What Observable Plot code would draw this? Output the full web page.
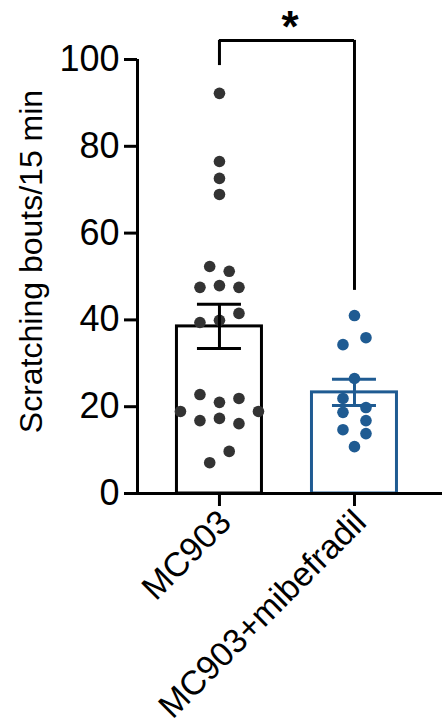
<!DOCTYPE html>
<html>
<head>
<meta charset="utf-8">
<script src="https://cdn.jsdelivr.net/npm/d3@7"></script>
<script src="https://cdn.jsdelivr.net/npm/@observablehq/plot@0.6"></script>
<style>
  html, body { margin: 0; padding: 0; background: white; }
  #chart { width: 442px; height: 727px; }
</style>
</head>
<body>
<div id="chart"></div>
<script>
// ---- data ----
const groups = ["MC903", "MC903+mibefradil"];
// individual animals, listed row by row, left to right within a row
const mc903Values = [92.2, 76.5, 72.6, 68.9, 52.3, 51.2, 47.5, 47.9, 47.5, 39.4, 39.9, 41.5,
                     22.8, 21.0, 21.9, 18.9, 16.8, 17.3, 16.1, 18.9, 7.1, 9.7];
const mibefradilValues = [41.0, 34.3, 35.9, 26.5, 21.9, 19.8, 18.7, 16.8, 14.7, 13.8, 10.8];
const means = [38.5, 23.3];
const sems = [5.1, 3.0];
const yTicks = [0, 20, 40, 60, 80, 100];
const yLabel = "Scratching bouts/15 min";
const bracketY = [104.4];            // height of the significance bracket
const bracketLegEnds = [98.6, 46.8]; // lower ends of the two legs
const sigText = ["*"];

// ---- styles / layout ----
const groupColors = ["#000000", "#1f5b92"];
const dotColors = ["#333333", "#1f5b92"];
const W = 442, H = 727, mL = 137, mR = 0, mT = 59, mB = 234;
const xDomain = [-0.607, 1.652];
const yDomain = [0, 100];
const pxPerX = (W - mL - mR) / (xDomain[1] - xDomain[0]);
const pxPerY = (H - mT - mB) / (yDomain[1] - yDomain[0]);
const barHalf = 42.5 / pxPerX;
const capHalf = 22 / pxPerX;
const laneSpacing = [19.5, 23];   // px between dots in a row
const rowTol = 13 / pxPerY;       // dots closer than this share a row

function swarm(values, gi) {
  const order = values.map((v, i) => i).sort((a, b) => values[b] - values[a]);
  const rows = [];
  for (const i of order) {
    const row = rows[rows.length - 1];
    if (row && values[row[0]] - values[i] <= rowTol) row.push(i);
    else rows.push([i]);
  }
  const out = [];
  for (const row of rows) {
    row.sort((a, b) => a - b);
    const n = row.length;
    row.forEach((i, k) => out.push({
      gi, group: groups[gi], value: values[i],
      x: gi + (k - (n - 1) / 2) * laneSpacing[gi] / pxPerX
    }));
  }
  return out;
}

const points = [...swarm(mc903Values, 0), ...swarm(mibefradilValues, 1)];
const summary = groups.map((g, i) => ({gi: i, group: g, mean: means[i], sem: sems[i]}));
const caps = summary.flatMap(d => [
  {gi: d.gi, y: d.mean + d.sem},
  {gi: d.gi, y: d.mean - d.sem}
]);

const chart = Plot.plot({
  width: W, height: H,
  marginLeft: mL, marginRight: mR, marginTop: mT, marginBottom: mB,
  style: {fontFamily: "'Liberation Sans', Arial, sans-serif", fontSize: "34px", color: "black", background: "white", overflow: "visible"},
  x: {domain: xDomain, axis: null},
  y: {domain: yDomain, axis: null},
  color: {type: "identity"},
  marks: [
    Plot.rectY(summary, {
      x1: d => d.gi - barHalf, x2: d => d.gi + barHalf, y1: 0, y2: "mean",
      fill: "white", stroke: d => groupColors[d.gi], strokeWidth: 3
    }),
    Plot.dot(points, {x: "x", y: "value", r: 5.8, fill: d => dotColors[d.gi], stroke: "none"}),
    Plot.ruleX(summary, {x: "gi", y1: d => d.mean - d.sem, y2: d => d.mean + d.sem, stroke: d => groupColors[d.gi], strokeWidth: 3}),
    Plot.ruleY(caps, {y: "y", x1: d => d.gi - capHalf, x2: d => d.gi + capHalf, stroke: d => groupColors[d.gi], strokeWidth: 3}),
    // axes
    Plot.ruleY([0], {strokeWidth: 3}),
    Plot.ruleX([xDomain[0]], {y1: yDomain[0], y2: yDomain[1], strokeWidth: 3}),
    Plot.axisY({ticks: yTicks, tickSize: 13, tickPadding: 5, strokeWidth: 3, fontSize: 36, label: null}),
    Plot.axisX({ticks: [0, 1], tickFormat: () => "", tickSize: 13, strokeWidth: 3, label: null}),
    Plot.axisX({ticks: [0, 1], tickFormat: i => groups[i], tickRotate: -45, tickSize: 0, tickPadding: 23, dx: 6, fontSize: 34, label: null}),
    Plot.text([yLabel], {frameAnchor: "left", textAnchor: "middle", text: d => d, rotate: -90, dx: -106, dy: -15, fontSize: 32}),
    // significance bracket
    Plot.ruleY(bracketY, {y: d => d, x1: 0, x2: 1, strokeWidth: 3}),
    Plot.ruleX([0, 1], {x: d => d, y1: (d, i) => bracketLegEnds[i], y2: bracketY[0], strokeWidth: 3}),
    Plot.text(sigText, {x: 0.5, y: bracketY[0] + 2.9, dx: 3, text: d => d, fontSize: 44, fontWeight: "bold"})
  ]
});
document.getElementById("chart").appendChild(chart);
</script>
</body>
</html>
